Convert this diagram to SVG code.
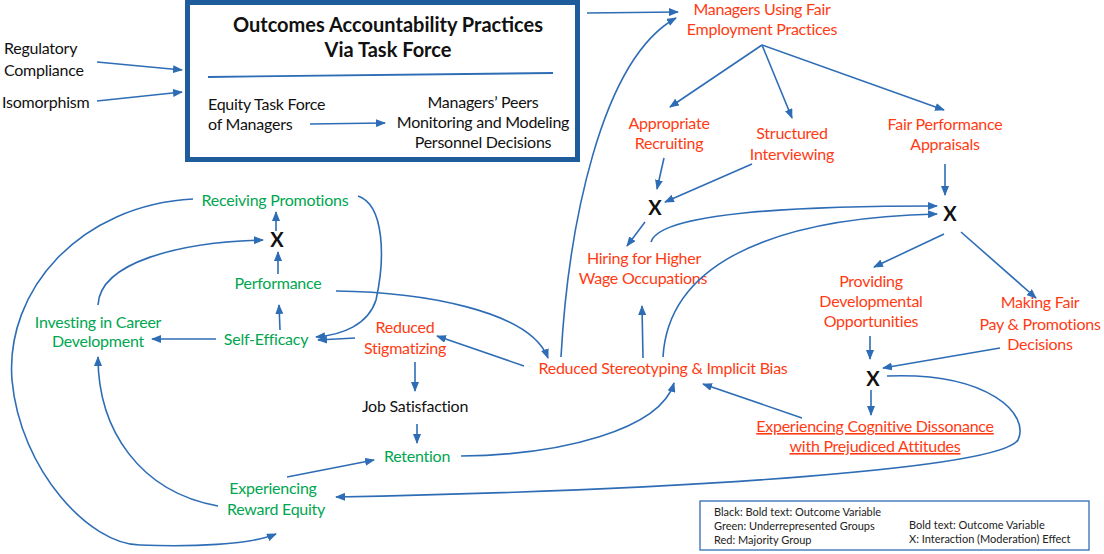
<svg xmlns="http://www.w3.org/2000/svg" width="1104" height="554" viewBox="0 0 1104 554">
<style>
text{font-family:Lato,"Liberation Sans",sans-serif;font-size:16px;letter-spacing:-0.25px}
.k{fill:#111}
.r{fill:#FF3B14}
.g{fill:#00A650}
.c{text-anchor:middle}
.t{font-weight:bold;font-size:20px;fill:#111;letter-spacing:0}
.x{font-weight:bold;font-size:20px;fill:#111;text-anchor:middle;letter-spacing:0}
.lg{font-size:11px;fill:#222;letter-spacing:0}
.e{fill:none;stroke:#2E6DB5;stroke-width:1.6}
</style>
<defs>
<marker id="a" markerUnits="userSpaceOnUse" markerWidth="10" markerHeight="8" refX="9" refY="4" orient="auto">
<path d="M0,0 L10,4 L0,8 z" fill="#2E6DB5"/>
</marker>
</defs>
<rect width="1104" height="554" fill="#fff"/>

<g id="box">
<rect x="187.5" y="2.5" width="390" height="157" fill="#fff" stroke="#1F5C9B" stroke-width="5"/>
<text class="t c" x="388" y="32">Outcomes Accountability Practices</text>
<text class="t c" x="388" y="57">Via Task Force</text>
<line x1="208" y1="77" x2="553" y2="73" stroke="#2E6DB5" stroke-width="1.8"/>
</g>
<g id="task-force"><text class="k" x="208" y="110">Equity Task Force</text><text class="k" x="208" y="130">of Managers</text></g>
<g id="peers"><text class="k c" x="483" y="108">Managers’ Peers</text><text class="k c" x="483" y="128">Monitoring and Modeling</text><text class="k c" x="483" y="148">Personnel Decisions</text></g>
<g id="regulatory"><text class="k" x="4" y="54">Regulatory</text><text class="k" x="4" y="76">Compliance</text></g>
<g id="isomorphism"><text class="k" x="2" y="108">Isomorphism</text></g>

<g id="managers-fair"><text class="r c" x="762" y="15">Managers Using Fair</text><text class="r c" x="762" y="35">Employment Practices</text></g>
<g id="appropriate"><text class="r c" x="669" y="129">Appropriate</text><text class="r c" x="669" y="149">Recruiting</text></g>
<g id="structured"><text class="r c" x="792" y="139">Structured</text><text class="r c" x="792" y="160">Interviewing</text></g>
<g id="fair-perf"><text class="r c" x="945" y="130">Fair Performance</text><text class="r c" x="945" y="150">Appraisals</text></g>
<g id="x1"><text class="x" x="655" y="215">X</text></g>
<g id="x2"><text class="x" x="950" y="221">X</text></g>
<g id="hiring"><text class="r c" x="644" y="264">Hiring for Higher</text><text class="r c" x="643" y="284">Wage Occupations</text></g>
<g id="providing"><text class="r c" x="871" y="287">Providing</text><text class="r c" x="871" y="307">Developmental</text><text class="r c" x="871" y="327">Opportunities</text></g>
<g id="making"><text class="r c" x="1040" y="308">Making Fair</text><text class="r c" x="1040" y="330">Pay &amp; Promotions</text><text class="r c" x="1040" y="350">Decisions</text></g>
<g id="x3"><text class="x" x="873" y="386">X</text></g>
<g id="dissonance"><text class="r c" x="875" y="432" text-decoration="underline">Experiencing Cognitive Dissonance</text><text class="r c" x="875" y="452" text-decoration="underline">with Prejudiced Attitudes</text></g>
<g id="stereotyping"><text class="r c" x="663" y="374">Reduced Stereotyping &amp; Implicit Bias</text></g>
<g id="stigmatizing"><text class="r c" x="405" y="333">Reduced</text><text class="r c" x="405" y="354">Stigmatizing</text></g>
<g id="job-sat"><text class="k c" x="415" y="412">Job Satisfaction</text></g>
<g id="retention"><text class="g c" x="417" y="462">Retention</text></g>
<g id="reward-equity"><text class="g c" x="273" y="494">Experiencing</text><text class="g c" x="276" y="515">Reward Equity</text></g>
<g id="promotions"><text class="g c" x="275" y="206">Receiving Promotions</text></g>
<g id="x4"><text class="x" x="277" y="247">X</text></g>
<g id="performance"><text class="g c" x="278" y="289">Performance</text></g>
<g id="self-efficacy"><text class="g c" x="266" y="345">Self-Efficacy</text></g>
<g id="investing"><text class="g c" x="98" y="328">Investing in Career</text><text class="g c" x="98" y="347">Development</text></g>

<g id="legend">
<rect x="700" y="501" width="389" height="49" fill="#fff" stroke="#2E6DB5" stroke-width="1.3"/>
<text class="lg" x="714" y="516">Black: Bold text: Outcome Variable</text>
<text class="lg" x="714" y="530">Green: Underrepresented Groups</text>
<text class="lg" x="714" y="544">Red: Majority Group</text>
<text class="lg" x="909" y="529">Bold text: Outcome Variable</text>
<text class="lg" x="909" y="543">X: Interaction (Moderation) Effect</text>
</g>

<g id="connectors" class="e">
<path d="M97,62 L182,70" marker-end="url(#a)"/>
<path d="M97,101 L182,92" marker-end="url(#a)"/>
<path d="M310,124 L385,123" marker-end="url(#a)"/>
<path d="M587,13 L678,12" marker-end="url(#a)"/>
<path d="M561,357 C568,230 600,60 676,18" marker-end="url(#a)"/>
<path d="M762,45 L670,107" marker-end="url(#a)"/>
<path d="M762,45 L792,118" marker-end="url(#a)"/>
<path d="M762,45 L944,110" marker-end="url(#a)"/>
<path d="M664,158 L657,189" marker-end="url(#a)"/>
<path d="M752,164 L665,202" marker-end="url(#a)"/>
<path d="M645,222 L627,246" marker-end="url(#a)"/>
<path d="M643,358 L642,306" marker-end="url(#a)"/>
<path d="M651,242 C660,212 800,206 937,206" marker-end="url(#a)"/>
<path d="M663,357 C668,270 760,218 937,214" marker-end="url(#a)"/>
<path d="M945,164 L945,195" marker-end="url(#a)"/>
<path d="M944,234 L874,267" marker-end="url(#a)"/>
<path d="M961,232 L1036,298" marker-end="url(#a)"/>
<path d="M870,336 L870,359" marker-end="url(#a)"/>
<path d="M1000,348 L883,368" marker-end="url(#a)"/>
<path d="M871,390 L871,415" marker-end="url(#a)"/>
<path d="M802,418 L703,384" marker-end="url(#a)"/>
<path d="M887,376 C990,372 1030,415 1018,440 C1000,468 700,490 336,497" marker-end="url(#a)"/>
<path d="M524,366 L437,336" marker-end="url(#a)"/>
<path d="M355,338 L318,340" marker-end="url(#a)"/>
<path d="M415,362 L415,391" marker-end="url(#a)"/>
<path d="M417,424 L417,443" marker-end="url(#a)"/>
<path d="M461,456 C560,455 660,430 674,383" marker-end="url(#a)"/>
<path d="M287,477 L374,460" marker-end="url(#a)"/>
<path d="M218,506 C140,492 98,430 98,357" marker-end="url(#a)"/>
<path d="M193,199 C80,205 5,290 12,380 C20,470 90,545 140,545 C190,547 250,545 276,534" marker-end="url(#a)"/>
<path d="M358,196 C385,205 385,260 376,300 C368,325 342,335 316,337" marker-end="url(#a)"/>
<path d="M276,231 L276,212" marker-end="url(#a)"/>
<path d="M278,274 L278,252" marker-end="url(#a)"/>
<path d="M280,330 L279,305" marker-end="url(#a)"/>
<path d="M216,339 L152,339" marker-end="url(#a)"/>
<path d="M98,305 C100,262 180,242 263,240" marker-end="url(#a)"/>
<path d="M336,291 C420,292 530,310 548,358" marker-end="url(#a)"/>
</g>
</svg>
